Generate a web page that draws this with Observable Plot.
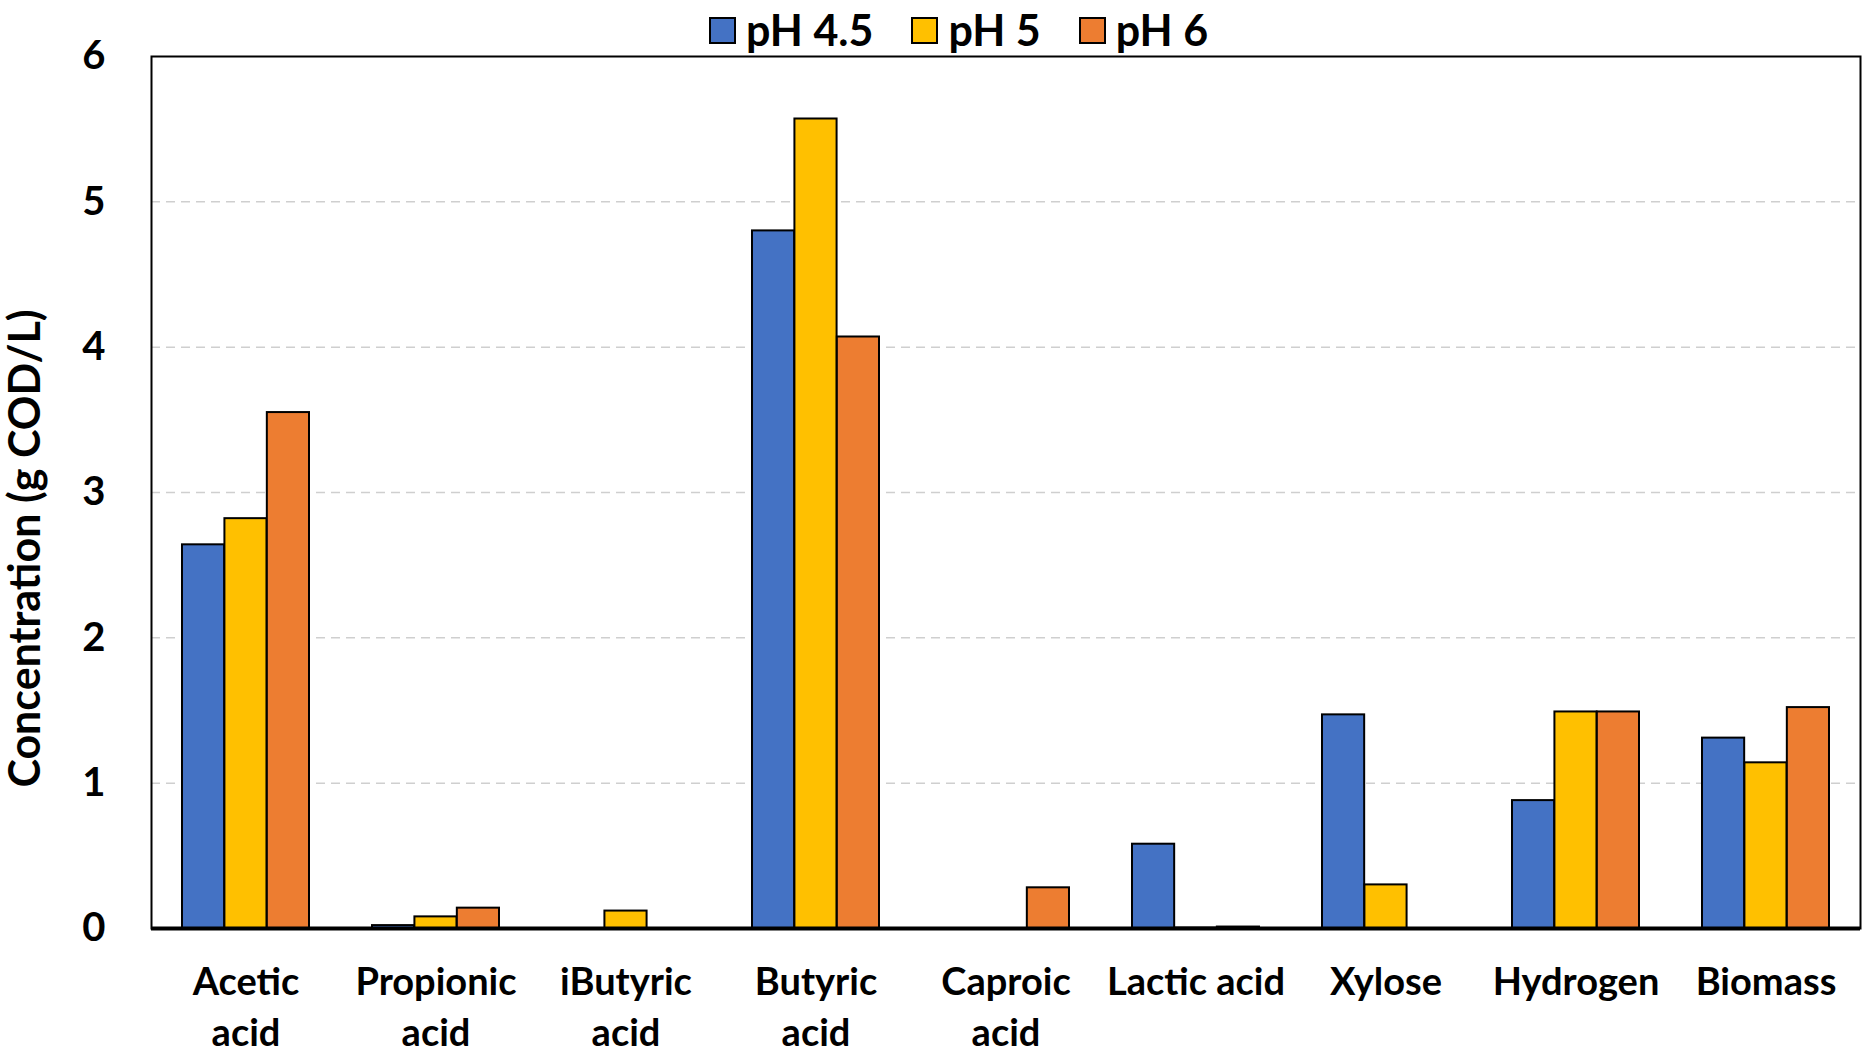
<!DOCTYPE html>
<html>
<head>
<meta charset="utf-8">
<script src="https://cdn.jsdelivr.net/npm/d3@7"></script>
<script src="https://cdn.jsdelivr.net/npm/@observablehq/plot@0.6"></script>
<style>
  html, body { margin: 0; padding: 0; background: #fff; }
  #wrap { position: relative; width: 1864px; height: 1060px; font-family: Lato, "Open Sans", sans-serif; font-weight: bold; }
  #legend { position: absolute; left: 709px; top: 6px; display: flex; align-items: center; font-size: 43px; line-height: 48px; color: #000; }
  #legend .item { display: flex; align-items: center; margin-right: 38px; }
  #legend .sw { width: 23px; height: 23px; border: 2px solid #000; margin-right: 10px; box-sizing: content-box; }
</style>
</head>
<body>
<div id="wrap">
  <div id="chart"></div>
  <div id="legend"></div>
</div>
<script>
// ---- data ----
const categories = ["Acetic acid", "Propionic acid", "iButyric acid", "Butyric acid", "Caproic acid", "Lactic acid", "Xylose", "Hydrogen", "Biomass"];
const tickLabels = ["Acetic\nacid", "Propionic\nacid", "iButyric\nacid", "Butyric\nacid", "Caproic\nacid", "Lactic acid", "Xylose", "Hydrogen", "Biomass"];
const seriesNames = ["pH 4.5", "pH 5", "pH 6"];
const seriesColors = ["#4472C4", "#FFC000", "#ED7D31"];
const ph45 = [2.64, 0.02, null, 4.80, null, 0.58, 1.47, 0.88, 1.31];
const ph5  = [2.82, 0.08, 0.12, 5.57, null, 0.003, 0.30, 1.49, 1.14];
const ph6  = [3.55, 0.14, null, 4.07, 0.28, 0.01, null, 1.49, 1.52];
const yTicks = [0, 1, 2, 3, 4, 5, 6];
const gridTicks = [1, 2, 3, 4, 5];
const yLabel = "Concentration (g COD/L)";

// ---- table ----
const seriesValues = [ph45, ph5, ph6];
const rows = [];
seriesNames.forEach((s, si) => {
  categories.forEach((c, ci) => {
    const v = seriesValues[si][ci];
    if (v != null) rows.push({category: c, series: s, value: v});
  });
});

// ---- layout ----
const W = 1864, H = 1060;
const mL = 151, mR = 4, mT = 56, mB = 132;
const padIn = 0.331, padOut = 0.158;
const step = (W - mL - mR) / (categories.length - padIn + 2 * padOut);
const third = step * (1 - padIn) / seriesNames.length;

const barMarks = seriesNames.map((s, i) =>
  Plot.barY(rows.filter(d => d.series === s), {
    x: "category", y: "value",
    fill: seriesColors[i], stroke: "#000", strokeWidth: 2,
    insetLeft: i * third, insetRight: (seriesNames.length - 1 - i) * third
  })
);

const chart = Plot.plot({
  width: W, height: H,
  marginLeft: mL, marginRight: mR, marginTop: mT, marginBottom: mB,
  style: {fontFamily: "Lato, 'Open Sans', sans-serif", fontWeight: "bold", fontSize: "38px", color: "#000", background: "#fff", overflow: "visible"},
  x: {domain: categories, paddingInner: padIn, paddingOuter: padOut, label: null},
  y: {domain: [0, 6], label: null},
  marks: [
    Plot.gridY(gridTicks, {stroke: "#cfcfcf", strokeOpacity: 1, strokeWidth: 1.5, strokeDasharray: "9,6"}),
    Plot.axisY(yTicks, {tickSize: 0, tickPadding: 46, fontSize: 40, fontWeight: "bold", label: null, tickFormat: d3.format("d")}),
    Plot.axisX({tickSize: 0, tickPadding: 30, fontSize: 38, fontWeight: "bold", lineHeight: 1.34,
      tickFormat: d => tickLabels[categories.indexOf(d)], label: null}),
    ...barMarks,
    Plot.frame({stroke: "#000", strokeWidth: 2}),
    Plot.ruleY([0], {stroke: "#000", strokeWidth: 4}),
    Plot.text([yLabel], {text: d => d, frameAnchor: "left", textAnchor: "middle", rotate: -90, dx: -125, dy: 56,
      fontSize: 43, fontWeight: "bold", fill: "#000"})
  ]
});
document.getElementById("chart").appendChild(chart);

// ---- legend ----
const legend = document.getElementById("legend");
seriesNames.forEach((s, i) => {
  const item = document.createElement("div");
  item.className = "item";
  const sw = document.createElement("span");
  sw.className = "sw";
  sw.style.background = seriesColors[i];
  const tx = document.createElement("span");
  tx.textContent = s;
  item.appendChild(sw);
  item.appendChild(tx);
  legend.appendChild(item);
});
</script>
</body>
</html>
